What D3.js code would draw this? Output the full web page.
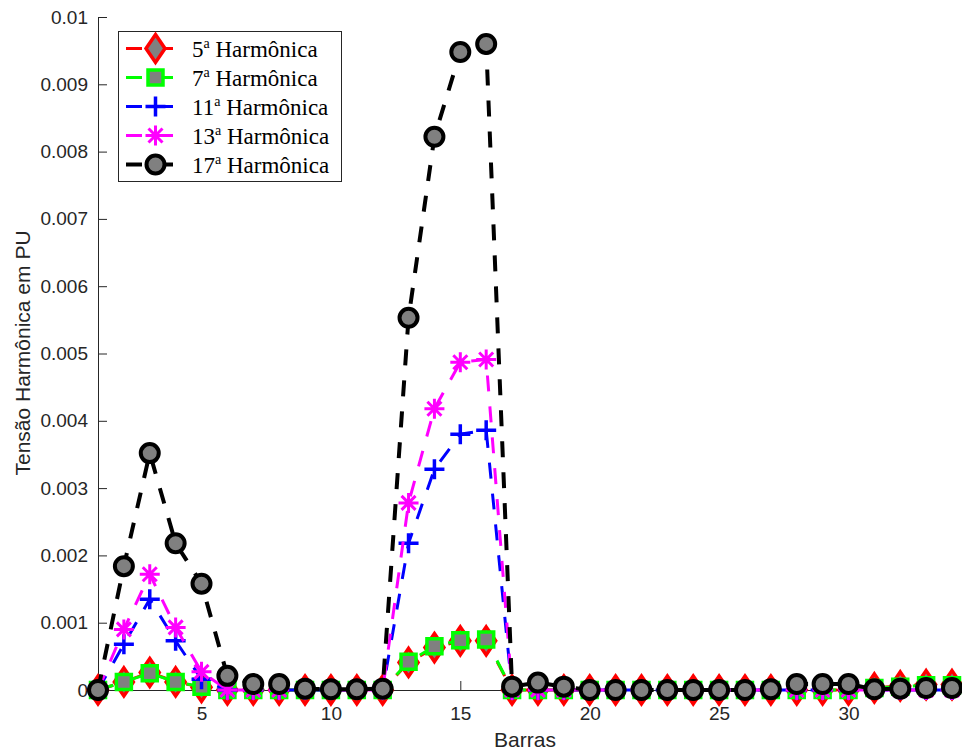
<!DOCTYPE html>
<html>
<head>
<meta charset="utf-8">
<script src="https://cdn.jsdelivr.net/npm/d3@7"></script>
<style>
  html, body { margin: 0; padding: 0; background: #fff; }
  svg { display: block; }
</style>
</head>
<body>
<svg id="chart" width="962" height="751"></svg>
<script>
// Bus numbers (Barras)
const barras = d3.range(1, 35);

// Harmonic voltage per bus, in PU
const h5 = [0, 0.00012, 0.00026, 0.00012, 0.00004, 0, 0, 0, 0, 0, 0, 0,
  0.00041, 0.00063, 0.00073, 0.00073, 0, 0, 0, 0, 0, 0, 0, 0, 0, 0, 0, 0, 0, 0,
  0.00003, 0.00006, 0.00008, 0.00008];
const h7 = [0, 0.00012, 0.00025, 0.00012, 0.00005, 0, 0, 0, 0, 0, 0, 0,
  0.00042, 0.00065, 0.00074, 0.00075, 0, 0, 0, 0, 0, 0, 0, 0, 0, 0, 0, 0, 0, 0,
  0.00003, 0.00005, 0.00007, 0.00007];
const h11 = [0, 0.00068, 0.00135, 0.00073, 0.00016, 0, 0, 0, 0, 0, 0, 0,
  0.00218, 0.00328, 0.0038, 0.00386, 0, 0, 0, 0, 0, 0, 0, 0, 0, 0, 0, 0, 0, 0,
  0, 0, 0, 0];
const h13 = [0, 0.0009, 0.00172, 0.00093, 0.00027, 0, 0, 0, 0, 0, 0, 0,
  0.00278, 0.00418, 0.00487, 0.00491, 0, 0, 0, 0, 0, 0, 0, 0, 0, 0, 0, 0, 0, 0,
  0, 0, 0, 0];
const h17 = [0, 0.00184, 0.00352, 0.00218, 0.00158, 0.00021, 0.00009, 0.00009,
  0.00002, 0.00001, 0.00001, 0.00002, 0.00553, 0.00822, 0.00948, 0.0096,
  0.00005, 0.00011, 0.00005, 0, 0, 0, 0, 0, 0, 0, 0.00001, 0.00009, 0.00009,
  0.00009, 0.00001, 0.00002, 0.00003, 0.00003];

const seriesOrders = ["5", "7", "11", "13", "17"];
const seriesValues = [h5, h7, h11, h13, h17];
const seriesColors = ["#ff0000", "#00ff00", "#0000ff", "#ff00ff", "#000000"];
const seriesMarkers = ["diamond", "square", "plus", "asterisk", "circle"];

const xTicks = [5, 10, 15, 20, 25, 30];
const yTicks = [0, 0.001, 0.002, 0.003, 0.004, 0.005, 0.006, 0.007, 0.008, 0.009, 0.01];

const svg = d3.select("#chart");
const axisColor = "#262626";
const grayFill = "#808080";

const x = d3.scaleLinear().domain([1, 34]).range([98, 952]);
const y = d3.scaleLinear().domain([0, 0.01]).range([690, 17]);

// Axes (ticks pointing inward, no box)
const xAxis = d3.axisBottom(x).tickValues(xTicks).tickFormat(d3.format("d"))
  .tickSizeInner(-9).tickSizeOuter(0).tickPadding(17);
const yAxis = d3.axisLeft(y).tickValues(yTicks)
  .tickFormat(d => d === 0 ? "0" : d3.format("")(+d.toFixed(3)))
  .tickSizeInner(-9).tickSizeOuter(0).tickPadding(18);

const gx = svg.append("g").attr("transform", "translate(0,690)").call(xAxis);
const gy = svg.append("g").attr("transform", "translate(98,0)").call(yAxis);
[gx, gy].forEach(g => {
  g.select(".domain").attr("stroke", axisColor).attr("stroke-width", 1);
  g.selectAll(".tick line").attr("stroke", axisColor).attr("stroke-width", 1);
  g.selectAll(".tick text").attr("fill", axisColor)
    .style("font-family", "'Liberation Sans', Arial, sans-serif")
    .style("font-size", "19px");
});
gy.selectAll(".tick text").attr("x", -10);

// Axis titles
svg.append("text")
  .attr("x", 525).attr("y", 747)
  .attr("text-anchor", "middle")
  .attr("fill", axisColor)
  .style("font-family", "'Liberation Sans', Arial, sans-serif")
  .style("font-size", "21px")
  .text("Barras");
svg.append("text")
  .attr("transform", "translate(30,353) rotate(-90)")
  .attr("text-anchor", "middle")
  .attr("fill", axisColor)
  .style("font-family", "'Liberation Sans', Arial, sans-serif")
  .style("font-size", "21px")
  .text("Tensão Harmônica em PU");

// Marker shapes
function markerPath(kind) {
  switch (kind) {
    case "diamond": return "M0,-14L9.5,0L0,14L-9.5,0Z";
    case "square": return "M-7.5,-7.5H7.5V7.5H-7.5Z";
    case "plus": return "M-10,0H10M0,-10V10";
    case "asterisk": return "M-10,0H10M0,-10V10M-7,-7L7,7M-7,7L7,-7";
    case "circle": return "M9,0A9,9 0 1,1 -9,0A9,9 0 1,1 9,0Z";
  }
}
function drawMarker(g, kind, color) {
  const filled = kind === "diamond" || kind === "square" || kind === "circle";
  g.append("path")
    .attr("d", markerPath(kind))
    .attr("fill", filled ? grayFill : "none")
    .attr("stroke", color)
    .attr("stroke-width", kind === "circle" ? 4 : (kind === "asterisk" ? 3 : 3.5))
    .attr("stroke-linejoin", "miter");
}

const dash = [16, 15];
const line = d3.line().x((d, i) => x(barras[i])).y(d => y(d));

// Series: dashed line then markers, later series on top
seriesValues.forEach((vals, s) => {
  const color = seriesColors[s];
  const g = svg.append("g");
  g.append("path")
    .datum(vals)
    .attr("d", line)
    .attr("fill", "none")
    .attr("stroke", color)
    .attr("stroke-width", s === 4 ? 4 : 3)
    .attr("stroke-dasharray", dash.join(","));
  vals.forEach((v, i) => {
    const m = g.append("g").attr("transform", `translate(${x(barras[i])},${y(v)})`);
    drawMarker(m, seriesMarkers[s], color);
  });
});

// Legend
const legend = svg.append("g");
legend.append("rect")
  .attr("x", 118.5).attr("y", 31.5).attr("width", 223).attr("height", 150)
  .attr("fill", "#fff").attr("stroke", axisColor).attr("stroke-width", 1);
seriesOrders.forEach((ord, s) => {
  const cy = 48.5 + s * 29;
  const row = legend.append("g");
  row.append("line")
    .attr("x1", 126).attr("x2", 185).attr("y1", cy).attr("y2", cy)
    .attr("stroke", seriesColors[s])
    .attr("stroke-width", s === 4 ? 4 : 3)
    .attr("stroke-dasharray", dash.join(","));
  const m = row.append("g").attr("transform", `translate(155.5,${cy})`);
  drawMarker(m, seriesMarkers[s], seriesColors[s]);
  const t = row.append("text")
    .attr("x", 192).attr("y", cy + 8)
    .attr("fill", "#000")
    .style("font-family", "'Liberation Serif', 'Times New Roman', serif")
    .style("font-size", "23px");
  t.append("tspan").text(ord);
  t.append("tspan").attr("dy", -9).style("font-size", "14px").text("a");
  t.append("tspan").attr("dy", 9).text(" Harmônica");
});
</script>
</body>
</html>
